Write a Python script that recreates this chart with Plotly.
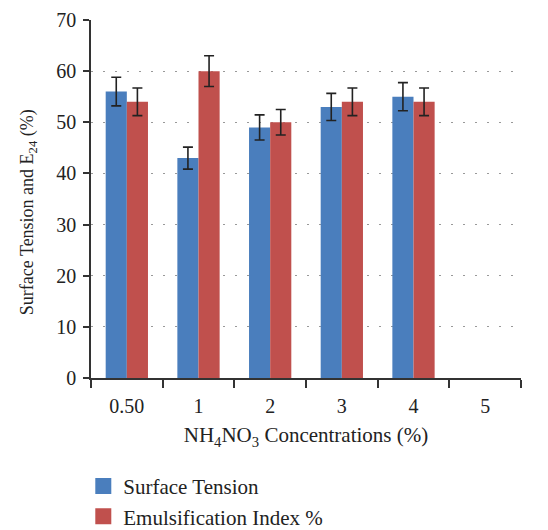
import plotly.graph_objects as go

categories = ["0.50", "1", "2", "3", "4", "5"]
surface_tension = [56, 43, 49, 53, 55, None]
surface_tension_err = [2.8, 2.15, 2.45, 2.65, 2.75, None]
emulsification = [54, 60, 50, 54, 54, None]
emulsification_err = [2.7, 3.0, 2.5, 2.7, 2.7, None]

series_names = ["Surface Tension", "Emulsification Index %"]
series_colors = ["#4A7EBD", "#C0504D"]

FONT = "Liberation Serif, DejaVu Serif, serif"
TXT = "#222222"

err_style = dict(type="data", color="#222222", thickness=1.6, width=5)

fig = go.Figure()
for name, color, vals, errs in zip(series_names, series_colors,
                                   [surface_tension, emulsification],
                                   [surface_tension_err, emulsification_err]):
    fig.add_trace(go.Bar(
        x=categories, y=vals, name=name, showlegend=False,
        marker=dict(color=color, line=dict(width=0)),
        error_y=dict(array=errs, **err_style),
    ))

# legend entries with larger square swatches
for name, color in zip(series_names, series_colors):
    fig.add_trace(go.Scatter(
        x=[None], y=[None], mode="markers", name=name, legendgroup=name,
        marker=dict(symbol="square", size=17, color=color),
    ))

fig.update_layout(
    width=548, height=530,
    margin=dict(l=91, r=27, t=20, b=152, autoexpand=False),
    paper_bgcolor="white", plot_bgcolor="white",
    font=dict(family=FONT, size=20, color=TXT),
    barmode="group", bargap=0.41, bargroupgap=0,
    showlegend=True,
    legend=dict(
        orientation="v", xref="container", yref="container",
        x=0.152, y=0.121, xanchor="left", yanchor="top",
        font=dict(family=FONT, size=21, color=TXT),
        itemsizing="trace", tracegroupgap=9, traceorder="normal",
    ),
    annotations=[dict(
        text="Surface Tension and E<sub>24</sub> (%)",
        xref="paper", yref="paper", x=-0.145, y=0.462,
        xanchor="center", yanchor="middle", textangle=-90, showarrow=False,
        font=dict(family=FONT, size=18, color=TXT),
    )],
)

fig.update_xaxes(
    type="category",
    showline=True, linecolor="#333333", linewidth=1.5,
    ticks="outside", tickson="boundaries", ticklen=8, tickwidth=1.5, tickcolor="#333333",
    ticklabelstandoff=9,
    showgrid=False, zeroline=False,
    tickfont=dict(family=FONT, size=20, color=TXT),
    title=dict(text="NH<sub>4</sub>NO<sub>3</sub> Concentrations (%)",
               font=dict(family=FONT, size=21, color=TXT), standoff=12),
)

fig.update_yaxes(
    range=[0, 70], dtick=10,
    showline=True, linecolor="#333333", linewidth=1.5,
    ticks="outside", ticklen=6, tickwidth=1.5, tickcolor="#333333",
    ticklabelstandoff=3,
    showgrid=True, gridcolor="#999999", griddash="2px,10px", gridwidth=1.2,
    zeroline=False,
    tickfont=dict(family=FONT, size=20, color=TXT),
)

fig.write_html("out.html")
